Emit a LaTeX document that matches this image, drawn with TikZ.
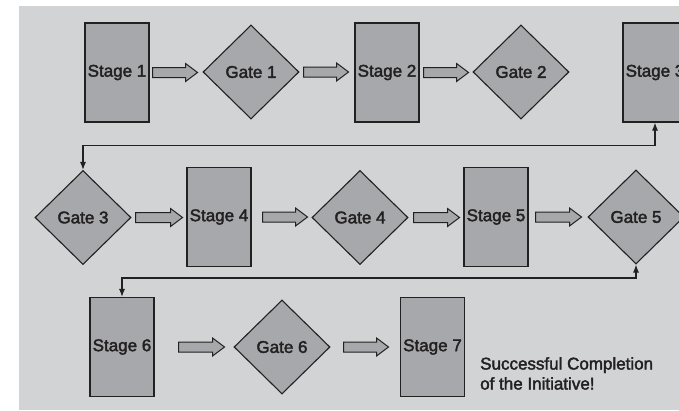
\documentclass[tikz,border=0pt]{standalone}
\usepackage{fontspec}
\setmainfont{Liberation Sans}
\newfontfamily\medium{Liberation Sans}[FakeBold=2.2]
\usetikzlibrary{shapes.geometric,calc,arrows.meta}

\definecolor{panel}{RGB}{210,211,213}
\definecolor{boxfill}{RGB}{167,168,171}
\definecolor{ink}{RGB}{34,32,33}

\newcommand\labelfont{\medium\fontsize{17}{20}\selectfont}

\tikzset{
  stagebox/.style={draw=ink, line width=1.1pt, fill=boxfill, minimum width=64pt,
    minimum height=99pt, inner sep=0pt, text=ink, font=\labelfont},
  gatebox/.style={draw=ink, line width=1.1pt, fill=boxfill, diamond, aspect=1.02,
    minimum width=96pt, minimum height=94pt, inner sep=0pt, text=ink,
    font=\labelfont},
  blockarr/.style={draw=ink, line width=1pt, fill=boxfill},
  loopline/.style={draw=ink, line width=1.1pt,
    {Latex[length=8pt,width=6pt]}-{Latex[length=8pt,width=6pt]}},
  note/.style={text=ink, align=left, anchor=north west, inner sep=0pt,
    font=\labelfont}
}

% hollow block arrow: tail coordinate, length
\newcommand\blockarrow[2]{%
  \draw[blockarr] (#1) ++(0,-5) -- ++(#2-12,0) -- ++(0,-4) -- ++(12,9)
    -- ++(-12,9) -- ++(0,-4) -- ++(-#2+12,0) -- cycle;}

\begin{document}
\begin{tikzpicture}[x=1pt, y=-1pt]
\useasboundingbox (0,0) rectangle (679,410);
\clip (0,0) rectangle (679,410);
\fill[panel] (19,6) rectangle (679,410);

% row 1
\node[stagebox] (s1) at (117,72.5) {Stage 1};
\node[gatebox]  (g1) at (251,72)   {Gate 1};
\node[stagebox] (s2) at (387,72.5) {Stage 2};
\node[gatebox]  (g2) at (521,72)   {Gate 2};
\node[stagebox] (s3) at (655,72.5) {Stage 3};

% row 2
\node[gatebox]  (g3) at (83,217.5)  {Gate 3};
\node[stagebox] (s4) at (219,217)   {Stage 4};
\node[gatebox]  (g4) at (360,217.5) {Gate 4};
\node[stagebox] (s5) at (496,217)   {Stage 5};
\node[gatebox]  (g5) at (636,217)   {Gate 5};

% row 3
\node[stagebox] (s6) at (122,347)   {Stage 6};
\node[gatebox]  (g6) at (282,347)   {Gate 6};
\node[stagebox] (s7) at (432.5,347) {Stage 7};
\node[note] (done) at (480,357) {Successful Completion\\[0pt]of the Initiative!};

% block arrows between neighbours
\coordinate (a1) at ($(s1.east)+(3,0)$);
\blockarrow{a1}{45}
\coordinate (a2) at ($(g1.east)+(4,0)$);
\blockarrow{a2}{45}
\coordinate (a3) at ($(s2.east)+(4,0)$);
\blockarrow{a3}{45}
\coordinate (a4) at ($(g3.east)+(4,0)$);
\blockarrow{a4}{47}
\coordinate (a5) at ($(s4.east)+(11,0)$);
\blockarrow{a5}{45}
\coordinate (a6) at ($(g4.east)+(5,0)$);
\blockarrow{a6}{46}
\coordinate (a7) at ($(s5.east)+(7,0)$);
\blockarrow{a7}{46}
\coordinate (a8) at ($(s6.east)+(24,0)$);
\blockarrow{a8}{46}
\coordinate (a9) at ($(g6.east)+(13,0)$);
\blockarrow{a9}{45}

% return lines between rows
\draw[loopline] (s3.south) -- ++(0,23) -| (g3.north);
\draw[loopline] (g5.south) -- (g5.south |- 0,278) -| (s6.north);
\end{tikzpicture}
\end{document}
